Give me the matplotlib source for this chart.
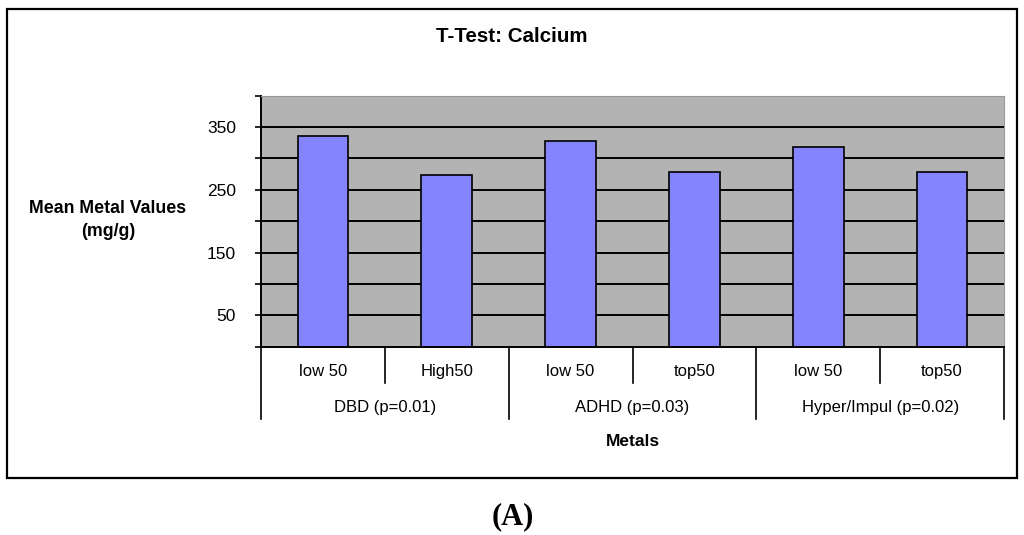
import numpy as np
import matplotlib.pyplot as plt
from matplotlib.patches import Rectangle

plt.rcParams['font.family'] = ['Liberation Sans', 'DejaVu Sans']

# --- dados ---
grupos = ['DBD (p=0.01)', 'ADHD (p=0.03)', 'Hyper/Impul (p=0.02)']
subgrupos = ['low 50', 'High50', 'low 50', 'top50', 'low 50', 'top50']
valores = [336, 273, 328, 278, 318, 278]
ticks_y = [50, 150, 250, 350]
grade_y = [50, 100, 150, 200, 250, 300, 350]

fig = plt.figure(figsize=(10.24, 5.35), dpi=100)
ax = fig.add_axes([261 / 1024, 188.3 / 535, 743 / 1024, 251 / 535])

x = np.arange(len(valores))
ax.set_facecolor('#b3b3b3')
ax.hlines(grade_y, -0.5, len(valores) - 0.5, colors='black', linewidth=1.4, zorder=1)
ax.bar(x, valores, width=0.41, color='#8584ff', edgecolor='black', linewidth=1.2, zorder=2)

ax.set_xlim(-0.5, len(valores) - 0.5)
ax.set_ylim(0, 400)
ax.set_yticks(ticks_y)
ax.set_yticks(np.arange(0, 401, 50), minor=True)
ax.tick_params(axis='y', which='both', length=4, width=1.2, direction='out', pad=14, labelsize=12.5)
ax.set_xticks([])

for lado in ['top', 'right']:
    ax.spines[lado].set_color('#999999')
    ax.spines[lado].set_linewidth(0.8)
for lado in ['left', 'bottom']:
    ax.spines[lado].set_color('black')
    ax.spines[lado].set_linewidth(1.4)

# --- eixo de categorias em dois níveis ---
trans = ax.get_xaxis_transform()
for i, nome in enumerate(subgrupos):
    ax.text(i, -0.097, nome, transform=trans, ha='center', va='center', fontsize=12)
for g, nome in enumerate(grupos):
    ax.text(2 * g + 0.5, -0.244, nome, transform=trans, ha='center', va='center', fontsize=12)
for k in range(len(valores) + 1):
    fundo = -0.29 if k % 2 == 0 else -0.145
    ax.plot([k - 0.5, k - 0.5], [0, fundo], color='black', linewidth=1.2,
            transform=trans, clip_on=False)

ax.text(0.5, -0.376, 'Metals', transform=ax.transAxes, ha='center', va='center',
        fontsize=12.5, fontweight='bold')
fig.text(108 / 1024, 1 - 220 / 535, 'Mean Metal Values\n(mg/g)', ha='center', va='center',
         fontsize=12.8, fontweight='bold', linespacing=1.4)
fig.text(512 / 1024, 1 - 37 / 535, 'T-Test: Calcium', ha='center', va='center',
         fontsize=14.8, fontweight='bold')

# moldura do gráfico
fig.patches.append(Rectangle((7 / 1024, 1 - 478 / 535), 1010 / 1024, 469 / 535,
                             transform=fig.transFigure, fill=False,
                             edgecolor='black', linewidth=1.6))

fig.text(513 / 1024, 1 - 517 / 535, '(A)', ha='center', va='center', fontsize=22,
         fontweight='bold', family=['Liberation Serif', 'DejaVu Serif'])

fig.savefig('out.png', dpi=100)
